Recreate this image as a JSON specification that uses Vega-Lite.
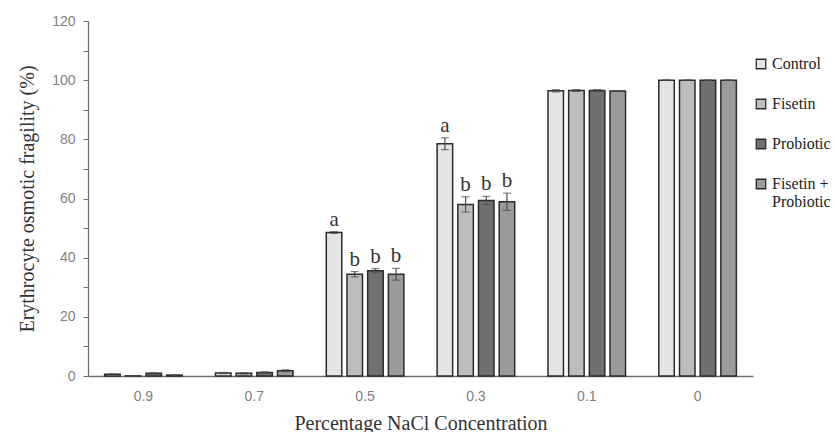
{
  "$schema": "https://vega.github.io/schema/vega-lite/v6.json",
  "autosize": {"type": "none"},
  "padding": {"left": 88, "top": 21, "right": 82, "bottom": 56},
  "width": 665,
  "height": 355,
  "background": "white",
  "config": {
    "view": {"stroke": null},
    "axisY": {
      "labelOverlap": false,
      "values": [0,4,8,12,16,20,24,28,32,36,40,44,48,52,56,60,64,68,72,76,80,84,88,92,96,100,104,108,112,116,120],
      "labelExpr": "datum.value % 20 === 0 ? datum.label : ''",
      "title": "Erythrocyte osmotic fragility (%)",
      "titleFont": "Liberation Serif", "titleFontSize": 20, "titleFontWeight": "normal",
      "titleColor": "#333333", "titlePadding": 14,
      "labelFont": "Liberation Sans", "labelFontSize": 14, "labelColor": "#7f7f7f",
      "labelPadding": 8, "tickSize": 5, "tickColor": "#6e6e6e",
      "domainColor": "#6e6e6e", "domainWidth": 1.3, "grid": false
    }
  },
  "data": {
    "values": [
      {"conc": "0.9", "group": "Control", "value": 0.6, "err": 0.1, "sig": ""},
      {"conc": "0.9", "group": "Fisetin", "value": 0.05, "err": 0.05, "sig": ""},
      {"conc": "0.9", "group": "Probiotic", "value": 0.9, "err": 0.2, "sig": ""},
      {"conc": "0.9", "group": "Fisetin + Probiotic", "value": 0.3, "err": 0.1, "sig": ""},
      {"conc": "0.7", "group": "Control", "value": 1.0, "err": 0.2, "sig": ""},
      {"conc": "0.7", "group": "Fisetin", "value": 0.9, "err": 0.2, "sig": ""},
      {"conc": "0.7", "group": "Probiotic", "value": 1.2, "err": 0.2, "sig": ""},
      {"conc": "0.7", "group": "Fisetin + Probiotic", "value": 1.8, "err": 0.3, "sig": ""},
      {"conc": "0.5", "group": "Control", "value": 48.5, "err": 0.3, "sig": "a"},
      {"conc": "0.5", "group": "Fisetin", "value": 34.4, "err": 0.9, "sig": "b"},
      {"conc": "0.5", "group": "Probiotic", "value": 35.6, "err": 0.7, "sig": "b"},
      {"conc": "0.5", "group": "Fisetin + Probiotic", "value": 34.4, "err": 2.0, "sig": "b"},
      {"conc": "0.3", "group": "Control", "value": 78.5, "err": 2.0, "sig": "a"},
      {"conc": "0.3", "group": "Fisetin", "value": 58.0, "err": 2.6, "sig": "b"},
      {"conc": "0.3", "group": "Probiotic", "value": 59.3, "err": 1.4, "sig": "b"},
      {"conc": "0.3", "group": "Fisetin + Probiotic", "value": 58.9, "err": 2.9, "sig": "b"},
      {"conc": "0.1", "group": "Control", "value": 96.4, "err": 0.4, "sig": ""},
      {"conc": "0.1", "group": "Fisetin", "value": 96.5, "err": 0.3, "sig": ""},
      {"conc": "0.1", "group": "Probiotic", "value": 96.5, "err": 0.3, "sig": ""},
      {"conc": "0.1", "group": "Fisetin + Probiotic", "value": 96.3, "err": 0.1, "sig": ""},
      {"conc": "0", "group": "Control", "value": 100, "err": 0.05, "sig": ""},
      {"conc": "0", "group": "Fisetin", "value": 100, "err": 0.05, "sig": ""},
      {"conc": "0", "group": "Probiotic", "value": 100, "err": 0.05, "sig": ""},
      {"conc": "0", "group": "Fisetin + Probiotic", "value": 100, "err": 0.05, "sig": ""}
    ]
  },
  "transform": [
    {"calculate": "datum.value - datum.err", "as": "lo"},
    {"calculate": "datum.value + datum.err", "as": "hi"}
  ],
  "encoding": {
    "x": {
      "field": "conc", "type": "nominal",
      "sort": ["0.9", "0.7", "0.5", "0.3", "0.1", "0"],
      "scale": {"paddingInner": 0.3, "paddingOuter": 0.15},
      "axis": {
        "title": "Percentage NaCl Concentration",
        "titleFont": "Liberation Serif", "titleFontSize": 20, "titleFontWeight": "normal",
        "titleColor": "#333333", "titlePadding": 10,
        "labelFont": "Liberation Sans", "labelFontSize": 14, "labelColor": "#7f7f7f",
        "labelAngle": 0, "labelPadding": 13,
        "ticks": false, "domainColor": "#6e6e6e", "domainWidth": 1.3
      }
    },
    "xOffset": {
      "field": "group", "type": "nominal",
      "sort": ["Control", "Fisetin", "Probiotic", "Fisetin + Probiotic"],
      "scale": {"paddingInner": 0.25}
    }
  },
  "layer": [
    {
      "mark": {"type": "bar", "stroke": "#2b2b2b", "strokeWidth": 1.5},
      "encoding": {
        "y": {
          "field": "value", "type": "quantitative",
          "scale": {"domain": [0, 120]},
          "title": "Erythrocyte osmotic fragility (%)"
        },
        "fill": {
          "field": "group", "type": "nominal",
          "sort": ["Control", "Fisetin", "Probiotic", "Fisetin + Probiotic"],
          "scale": {
            "domain": ["Control", "Fisetin", "Probiotic", "Fisetin + Probiotic"],
            "range": ["#e4e4e4", "#bdbdbd", "#707070", "#9a9a9a"]
          },
          "legend": {
            "title": null,
            "orient": "none", "legendX": 665, "legendY": 35,
            "symbolType": "square", "symbolSize": 90,
            "symbolStrokeColor": "#2b2b2b", "symbolStrokeWidth": 1.3,
            "labelFont": "Liberation Serif", "labelFontSize": 16, "labelColor": "#222222",
            "labelOffset": 3,
            "rowPadding": 24,
            "labelExpr": "datum.label === 'Fisetin + Probiotic' ? ['Fisetin +', 'Probiotic'] : datum.label"
          }
        }
      }
    },
    {
      "mark": {"type": "rule", "color": "#4a4a4a", "strokeWidth": 1.2},
      "encoding": {
        "y": {"field": "lo", "type": "quantitative", "title": "Erythrocyte osmotic fragility (%)"},
        "y2": {"field": "hi"}
      }
    },
    {
      "mark": {"type": "tick", "color": "#4a4a4a", "thickness": 1.2, "size": 8},
      "encoding": {"y": {"field": "hi", "type": "quantitative", "title": "Erythrocyte osmotic fragility (%)"}}
    },
    {
      "mark": {"type": "tick", "color": "#4a4a4a", "thickness": 1.2, "size": 8},
      "encoding": {"y": {"field": "lo", "type": "quantitative", "title": "Erythrocyte osmotic fragility (%)"}}
    },
    {
      "mark": {"type": "text", "font": "Liberation Serif", "fontSize": 21, "color": "#333333", "baseline": "alphabetic", "dy": -6},
      "encoding": {
        "y": {"field": "hi", "type": "quantitative", "title": "Erythrocyte osmotic fragility (%)"},
        "text": {"field": "sig"}
      }
    }
  ]
}
